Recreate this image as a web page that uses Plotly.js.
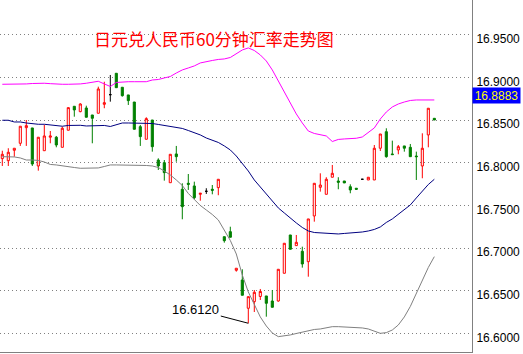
<!DOCTYPE html>
<html>
<head>
<meta charset="utf-8">
<script src="https://cdn.plot.ly/plotly-3.0.1.min.js"></script>
<style>
html,body{margin:0;padding:0;background:#ffffff;}
#chart{width:523px;height:354px;}
</style>
</head>
<body>
<div id="chart"></div>
<script>
// ---- data ----
const chartTitle = '日元兑人民币60分钟汇率走势图';
const lastPrice = '16.8883';
const lastPriceLevel = 16.8791;
const lowPrice = 16.6120;
const lowIndex = 41;
const yTicks = [16.60, 16.65, 16.70, 16.75, 16.80, 16.85, 16.90, 16.95];

const openP = [16.8050,16.8026,16.8148,16.8230,16.8413,16.8410,16.7964,16.8143,16.8301,16.8301,
16.8183,16.8383,16.8664,16.8601,16.8644,16.8562,16.8582,16.8687,16.8800,16.9051,
16.8887,16.8797,16.8714,16.8425,16.8277,16.8503,16.8034,16.8003,16.7768,16.8105,
16.7691,16.7761,16.7730,16.7632,16.7667,16.7691,16.7710,16.7135,16.7194,16.6741,
16.6627,16.6296,16.6373,16.6434,16.6440,16.6381,16.6381,16.6706,16.7155,16.7030,
16.6964,16.6842,16.7378,16.7714,16.7632,16.7832,16.7788,16.7788,16.7721,16.7703,
16.7808,16.7800,16.7800,16.8172,16.8366,16.8105,16.8152,16.8199,16.8183,16.8081,
16.7964,16.8328,16.8523];
const highP = [16.8143,16.8172,16.8172,16.8430,16.8503,16.8410,16.8301,16.8445,16.8374,16.8316,
16.8425,16.8648,16.8664,16.8699,16.8671,16.8562,16.8894,16.8952,16.9031,16.9054,
16.8887,16.8797,16.8714,16.8445,16.8535,16.8503,16.8054,16.8034,16.8101,16.8199,
16.7761,16.7870,16.7780,16.7647,16.7703,16.7741,16.7808,16.7135,16.7252,16.6765,
16.6753,16.6432,16.6510,16.6522,16.6440,16.6510,16.6753,16.7058,16.7155,16.7155,
16.7018,16.7343,16.7761,16.7878,16.7832,16.7976,16.7832,16.7788,16.7749,16.7703,
16.7810,16.7832,16.8210,16.8339,16.8406,16.8261,16.8210,16.8199,16.8222,16.8132,
16.8347,16.8641,16.8523];
const lowP = [16.7964,16.7964,16.8073,16.8199,16.8199,16.7964,16.7909,16.8143,16.8230,16.8183,
16.8183,16.8383,16.8542,16.8594,16.8535,16.8230,16.8582,16.8641,16.8718,16.8882,
16.8777,16.8679,16.8394,16.8199,16.8277,16.8132,16.7917,16.7792,16.7768,16.8014,
16.7339,16.7683,16.7574,16.7557,16.7636,16.7632,16.7621,16.7065,16.7128,16.6725,
16.6448,16.6120,16.6252,16.6393,16.6197,16.6307,16.6373,16.6706,16.6987,16.7030,
16.6772,16.6666,16.7311,16.7663,16.7632,16.7832,16.7691,16.7765,16.7644,16.7683,
16.7806,16.7800,16.7800,16.8140,16.8061,16.8097,16.8101,16.8132,16.8073,16.7800,
16.7820,16.8183,16.8503];
const closeP = [16.8101,16.8125,16.8172,16.8430,16.8437,16.7987,16.8301,16.8316,16.8316,16.8210,
16.8406,16.8648,16.8621,16.8691,16.8535,16.8523,16.8867,16.8706,16.8800,16.8882,
16.8788,16.8730,16.8394,16.8308,16.8519,16.8190,16.7964,16.7886,16.8101,16.8073,
16.7487,16.7749,16.7592,16.7644,16.7667,16.7679,16.7808,16.7088,16.7128,16.6765,
16.6448,16.6432,16.6483,16.6493,16.6354,16.6307,16.6753,16.7058,16.6987,16.7069,
16.6815,16.7343,16.7761,16.7741,16.7808,16.7878,16.7773,16.7765,16.7683,16.7691,
16.7808,16.7832,16.8172,16.8339,16.8073,16.8097,16.8190,16.8172,16.8073,16.8073,
16.8172,16.8641,16.8503];

const upperBand = [16.8922,16.8922,16.8922,16.8922,16.8926,16.8931,16.8934,16.8934,16.8929,16.8922,
16.8922,16.8922,16.8922,16.8926,16.8934,16.8949,16.8957,16.8926,16.8896,16.8943,
16.8949,16.8952,16.8952,16.8952,16.8952,16.8972,16.8978,16.8996,16.9013,16.9054,
16.9090,16.9113,16.9137,16.9172,16.9189,16.9201,16.9213,16.9219,16.9236,16.9277,
16.9324,16.9348,16.9318,16.9266,16.9195,16.9090,16.8961,16.8832,16.8697,16.8574,
16.8468,16.8374,16.8345,16.8333,16.8316,16.8251,16.8275,16.8281,16.8286,16.8289,
16.8304,16.8357,16.8410,16.8515,16.8597,16.8656,16.8691,16.8714,16.8732,16.8738,
16.8738,16.8738,16.8738];
const middleBand = [16.8500,16.8500,16.8480,16.8480,16.8468,16.8456,16.8453,16.8453,16.8445,16.8430,
16.8430,16.8439,16.8441,16.8441,16.8433,16.8433,16.8441,16.8439,16.8427,16.8445,
16.8468,16.8468,16.8468,16.8468,16.8468,16.8462,16.8451,16.8439,16.8433,16.8421,
16.8404,16.8380,16.8357,16.8328,16.8292,16.8263,16.8240,16.8199,16.8152,16.8081,
16.7999,16.7905,16.7800,16.7718,16.7636,16.7554,16.7472,16.7413,16.7351,16.7296,
16.7243,16.7202,16.7184,16.7178,16.7173,16.7167,16.7167,16.7173,16.7178,16.7182,
16.7190,16.7202,16.7220,16.7249,16.7302,16.7343,16.7395,16.7448,16.7507,16.7589,
16.7671,16.7747,16.7808];
const lowerBand = [16.8073,16.8073,16.8070,16.8058,16.8034,16.8034,16.8029,16.8011,16.7982,16.7976,
16.7964,16.7956,16.7946,16.7937,16.7937,16.7937,16.7941,16.7958,16.7976,16.7976,
16.7976,16.7976,16.7976,16.7976,16.7970,16.7964,16.7946,16.7905,16.7859,16.7800,
16.7735,16.7642,16.7571,16.7501,16.7448,16.7395,16.7331,16.7202,16.7091,16.6932,
16.6686,16.6487,16.6334,16.6194,16.6088,16.6006,16.5963,16.5971,16.5983,16.6000,
16.6018,16.6035,16.6047,16.6053,16.6071,16.6080,16.6080,16.6076,16.6073,16.6071,
16.6065,16.6053,16.6029,16.6002,16.6010,16.6041,16.6100,16.6194,16.6317,16.6471,
16.6622,16.6774,16.6901];

// ---- build traces ----
const idx = openP.map((_, i) => i);
const isDoji = i => openP[i] === closeP[i];
const main = {x: [], open: [], high: [], low: [], close: []};
const doji = {x: [], open: [], high: [], low: [], close: []};
idx.forEach(i => {
  const t = isDoji(i) ? doji : main;
  t.x.push(i); t.open.push(openP[i]); t.high.push(highP[i]);
  t.low.push(lowP[i]); t.close.push(closeP[i]);
});

const traces = [
  Object.assign({type: 'candlestick', whiskerwidth: 0, hoverinfo: 'skip',
    increasing: {line: {color: '#FF0000', width: 1}, fillcolor: '#FFFFFF'},
    decreasing: {line: {color: '#008000', width: 1}, fillcolor: '#008000'}}, main),
  Object.assign({type: 'candlestick', whiskerwidth: 0, hoverinfo: 'skip',
    increasing: {line: {color: '#000000', width: 1}, fillcolor: '#000000'},
    decreasing: {line: {color: '#000000', width: 1}, fillcolor: '#000000'}}, doji),
  {type: 'scatter', mode: 'lines', x: idx, y: upperBand, line: {color: '#FF00FF', width: 1}, hoverinfo: 'skip'},
  {type: 'scatter', mode: 'lines', x: idx, y: middleBand, line: {color: '#000080', width: 1}, hoverinfo: 'skip'},
  {type: 'scatter', mode: 'lines', x: idx, y: lowerBand, line: {color: '#808080', width: 1}, hoverinfo: 'skip'}
];

const layout = {
  width: 523, height: 354, autosize: false,
  margin: {l: 0, r: 51, t: 0, b: 2, pad: 0},
  paper_bgcolor: '#FFFFFF', plot_bgcolor: '#FFFFFF',
  showlegend: false,
  boxgap: 0.5,
  xaxis: {
    range: [-0.383, 78.28], showticklabels: false, showgrid: false, zeroline: false,
    showline: true, linecolor: '#808080', linewidth: 1, ticks: '',
    rangeslider: {visible: false}, fixedrange: true
  },
  yaxis: {
    side: 'right', range: [16.5783, 16.9910],
    tickmode: 'array', tickvals: yTicks, ticktext: yTicks.map(v => v.toFixed(4)),
    showgrid: true, gridcolor: '#808080', gridwidth: 1, griddash: '1px,3px',
    zeroline: false, showline: true, linecolor: '#808080', linewidth: 1,
    ticks: '', ticklabelstandoff: 1,
    ticklabelshift: 4,
    tickfont: {family: 'Liberation Sans, Arial, sans-serif', size: 12, color: '#000000'},
    fixedrange: true
  },
  annotations: [
    {text: chartTitle, xref: 'paper', yref: 'paper', x: 0.1943, y: 0.890,
     xanchor: 'left', yanchor: 'middle', showarrow: false,
     font: {family: 'Noto Sans CJK SC, sans-serif', size: 17, color: '#FF0000'}},
    {text: lowPrice.toFixed(4), xref: 'x', yref: 'y', x: lowIndex, y: lowPrice,
     showarrow: true, arrowhead: 0, arrowwidth: 1, arrowcolor: '#000000',
     ax: -52.5, ay: -13.8,
     font: {family: 'Liberation Sans, Arial, sans-serif', size: 13, color: '#000000'}},
    {text: lastPrice, xref: 'paper', yref: 'y', x: 1, y: lastPriceLevel,
     xanchor: 'left', yanchor: 'middle', showarrow: false,
     bgcolor: '#0000FF', borderpad: 0, width: 47, height: 15,
     font: {family: 'Liberation Sans, Arial, sans-serif', size: 12, color: '#FFFF00'}}
  ]
};

Plotly.newPlot('chart', traces, layout, {staticPlot: true, displayModeBar: false});
</script>
</body>
</html>
